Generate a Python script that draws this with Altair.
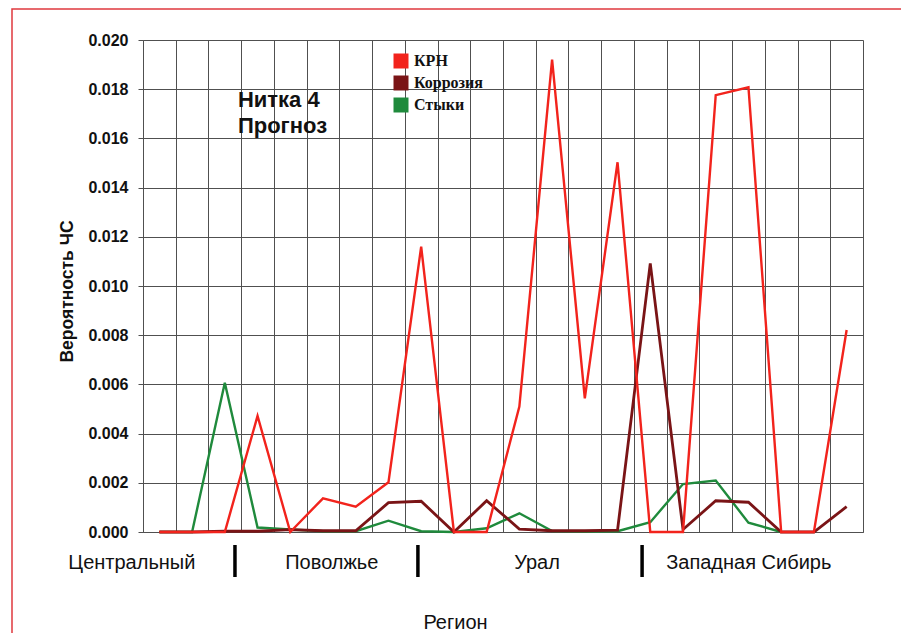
import altair as alt
import pandas as pd

# categories (pipeline segments), plotted at cell centres
cats = list(range(22))
krn = [0, 0, 0, 0.00472, 0, 0.00137, 0.00103, 0.00202, 0.0116, 0, 0, 0.0051,
       0.0192, 0.00543, 0.01503, 0, 0, 0.01776, 0.01808, 0, 0, 0.00821]
korr = [0, 0, 0.00003, 0.00003, 0.0001, 0.00005, 0.00005, 0.00119, 0.00125, 0,
        0.00127, 0.00012, 0.00005, 0.00005, 0.00008, 0.01092, 0.0001, 0.00127,
        0.00121, 0, 0, 0.00103]
styki = [0, 0, 0.00607, 0.00018, 0.0001, 0.00003, 0.00003, 0.00046, 0.00003, 0,
         0.00015, 0.00076, 0.00004, 0.00002, 0.00003, 0.0004, 0.00195, 0.00209,
         0.00038, 0, None, None]

series_names = ["КРН", "Коррозия", "Стыки"]
series_colors = ["#f2231c", "#7a1416", "#1f8a3c"]

regions = ["Центральный", "Поволжье", "Урал", "Западная Сибирь"]
region_pos = [-0.34, 5.77, 12.04, 18.51]
separators = [2.81, 8.40, 15.25]

y_ticks = [round(0.002 * i, 3) for i in range(11)]
x_grid = list(range(23))

rows = []
for name, vals in zip(series_names, [krn, korr, styki]):
    for c, v in zip(cats, vals):
        if v is not None:
            rows.append({"x": c + 0.5, "v": v, "series": name})
df = pd.DataFrame(rows)

FONT = "Liberation Sans"
GRID = "#505050"

xscale = alt.Scale(domain=[0, 22], nice=False, zero=False)
yscale = alt.Scale(domain=[0, 0.02], nice=False)
cscale = alt.Scale(domain=series_names, range=series_colors)

x_axis = alt.Axis(values=x_grid, labels=False, ticks=False, grid=True,
                  gridColor=GRID, gridWidth=1, domainColor=GRID,
                  title="Регион", titleFont=FONT, titleFontSize=20,
                  titleFontWeight="normal", titleColor="#111",
                  titleX=312, titleY=90, titleBaseline="middle")
y_axis = alt.Axis(values=y_ticks, format=".3f", grid=True, gridColor=GRID,
                  gridWidth=1, tickColor=GRID, tickSize=5, domainColor=GRID,
                  labelFont=FONT, labelFontSize=16, labelFontWeight="bold",
                  labelColor="#111", labelPadding=10,
                  title="Вероятность ЧС", titleFont=FONT, titleFontSize=17.5,
                  titleFontWeight="bold", titleColor="#111",
                  titleX=-76, titleY=251, titleBaseline="middle")

X = lambda f: alt.X(f, scale=xscale, axis=x_axis)
Y = lambda f: alt.Y(f, scale=yscale, axis=y_axis)

# legend carrier: filled squares, no data drawn
legend_layer = alt.Chart(df).transform_filter("false").mark_point(
    shape="square", filled=True, opacity=1, size=225
).encode(
    x=X("x:Q"),
    y=Y("v:Q"),
    color=alt.Color(
        "series:N", scale=cscale,
        legend=alt.Legend(
            orient="none", legendX=250, legendY=13, title=None,
            symbolType="square", symbolSize=225, symbolStrokeWidth=0,
            labelFont="Liberation Serif", labelFontSize=16, labelFontWeight="bold",
            labelColor="#111", rowPadding=6, labelOffset=5, padding=0,
        ),
    ),
)

def line_layer(name, width):
    return alt.Chart(df).transform_filter(alt.datum.series == name).mark_line(
        strokeWidth=width
    ).encode(
        x=X("x:Q"),
        y=Y("v:Q"),
        color=alt.Color("series:N", scale=cscale, legend=None),
    )

lines = [line_layer("Стыки", 2.4), line_layer("Коррозия", 2.8), line_layer("КРН", 2.4)]

reg_df = pd.DataFrame({"name": regions, "x": region_pos})
reg_text = alt.Chart(reg_df).mark_text(
    font=FONT, fontSize=20, color="#111", baseline="middle", align="center"
).encode(x=X("x:Q"), y=alt.value(523), text="name:N")

sep_df = pd.DataFrame({"x": separators})
sep_rules = alt.Chart(sep_df).mark_rule(color="#000", strokeWidth=3.5).encode(
    x=X("x:Q"), y=alt.value(505), y2=alt.value(537)
)

title_df = pd.DataFrame({"t": ["Нитка 4\nПрогноз"], "x": [2.9], "y": [0.01728]})
title_text = alt.Chart(title_df).mark_text(
    font=FONT, fontSize=22, fontWeight="bold", color="#111", align="left",
    baseline="alphabetic", lineBreak="\n", lineHeight=26
).encode(x=X("x:Q"), y=Y("y:Q"), text="t:N")

frame = alt.Chart(pd.DataFrame({"a": [0]})).mark_rect(
    filled=False, stroke="#e0383e", strokeWidth=1.5
).encode(x=alt.value(-131), x2=alt.value(763), y=alt.value(-31), y2=alt.value(640))

chart = alt.layer(legend_layer, frame, *lines, reg_text, sep_rules, title_text).properties(
    width=720, height=492,
    autosize=alt.AutoSizeParams(type="none"),
    padding={"left": 135, "top": 32, "right": 38, "bottom": 101},
).configure_view(stroke=None).configure(background="white")

chart.save("out.html", embed_options={"renderer": "svg", "actions": False})
